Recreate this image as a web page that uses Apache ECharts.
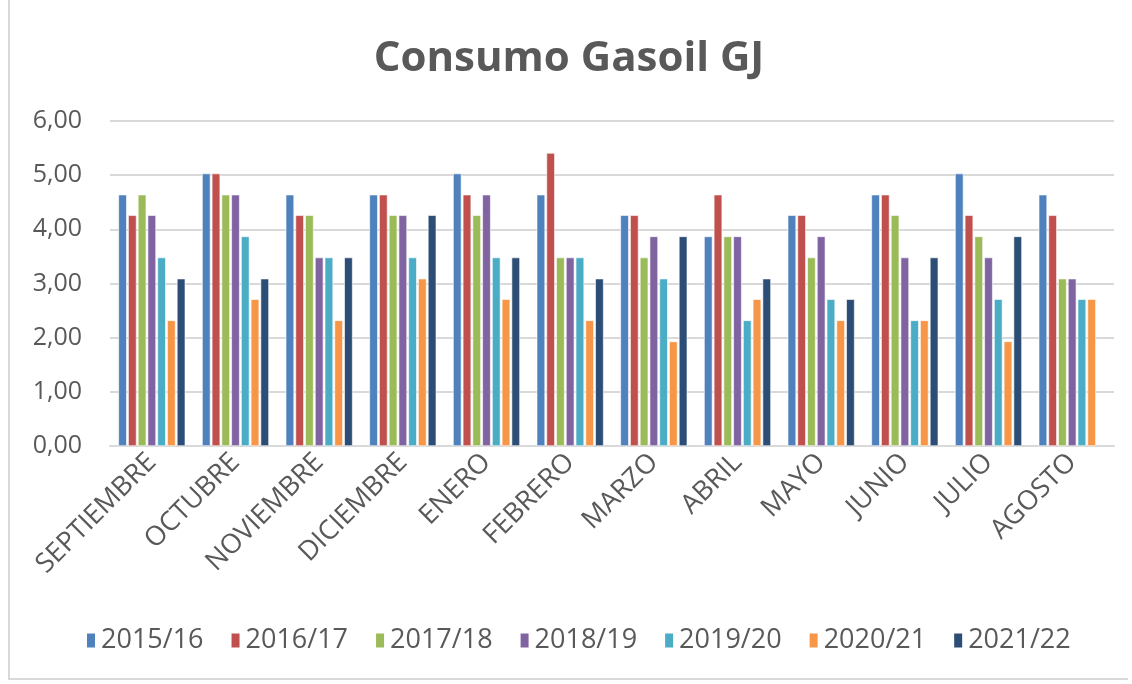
<!DOCTYPE html>
<html>
<head>
<meta charset="utf-8">
<script src="https://cdn.jsdelivr.net/npm/echarts@6/dist/echarts.min.js"></script>
<style>
  html, body { margin: 0; padding: 0; background: #fff; }
  #chart { position: absolute; left: 8px; top: 0; width: 1120px; height: 680px; border-left: 2px solid #d9d9d9; border-bottom: 2px solid #d9d9d9; box-sizing: border-box; }
</style>
</head>
<body>
<div id="chart"></div>
<script>
var months = ['SEPTIEMBRE','OCTUBRE','NOVIEMBRE','DICIEMBRE','ENERO','FEBRERO','MARZO','ABRIL','MAYO','JUNIO','JULIO','AGOSTO'];
var seasons = ['2015/16','2016/17','2017/18','2018/19','2019/20','2020/21','2021/22'];
var colors = ['#4f81bd','#c0504d','#9bbb59','#8064a2','#4bacc6','#f79646','#2c4d75'];

var s2015 = [4.64, 5.03, 4.64, 4.64, 5.03, 4.64, 4.26, 3.87, 4.26, 4.64, 5.03, 4.64];
var s2016 = [4.26, 5.03, 4.26, 4.64, 4.64, 5.41, 4.26, 4.64, 4.26, 4.64, 4.26, 4.26];
var s2017 = [4.64, 4.64, 4.26, 4.26, 4.26, 3.48, 3.48, 3.87, 3.48, 4.26, 3.87, 3.09];
var s2018 = [4.26, 4.64, 3.48, 4.26, 4.64, 3.48, 3.87, 3.87, 3.87, 3.48, 3.48, 3.09];
var s2019 = [3.48, 3.87, 3.48, 3.48, 3.48, 3.48, 3.09, 2.32, 2.71, 2.32, 2.71, 2.71];
var s2020 = [2.32, 2.71, 2.32, 3.09, 2.71, 2.32, 1.93, 2.71, 2.32, 2.32, 1.93, 2.71];
var s2021 = [3.09, 3.09, 3.48, 4.26, 3.48, 3.09, 3.87, 3.09, 2.71, 3.48, 3.87, null];

var seriesData = [s2015, s2016, s2017, s2018, s2019, s2020, s2021];

var chart = echarts.init(document.getElementById('chart'));
var font = 'Open Sans';

var series = seasons.map(function (name, i) {
    return {
        name: name,
        type: 'bar',
        barGap: '16%',
        barCategoryGap: '20%',
        itemStyle: { color: colors[i], borderColor: '#ffffff', borderWidth: 0.6 },
        data: seriesData[i]
    };
});

var option = {
    animation: false,
    color: colors,
    title: {
        text: 'Consumo Gasoil GJ',
        left: 'center',
        top: 33,
        textStyle: { fontFamily: font, fontSize: 42, fontWeight: 'bold', color: '#595959' }
    },
    legend: {
        bottom: 19,
        left: 70,
        itemWidth: 10,
        itemHeight: 16,
        itemGap: 26,
        icon: 'rect',
        textStyle: { fontFamily: font, fontSize: 27, color: '#595959' },
        data: seasons
    },
    grid: { left: 100, right: 14, top: 121, bottom: 232, containLabel: false },
    xAxis: {
        type: 'category',
        data: months,
        axisLine: { lineStyle: { color: '#d9d9d9', width: 2 } },
        axisTick: { show: false },
        axisLabel: { rotate: 45, interval: 0, fontFamily: font, fontSize: 27, color: '#595959', margin: 12 }
    },
    yAxis: {
        type: 'value',
        min: 0,
        max: 6,
        interval: 1,
        axisLine: { show: false },
        axisTick: { show: false },
        splitLine: { lineStyle: { color: '#d9d9d9', width: 2 } },
        axisLabel: {
            fontFamily: font, fontSize: 25, color: '#595959', margin: 28,
            formatter: function (v) { return v.toFixed(2).replace('.', ','); }
        }
    },
    series: series
};

chart.setOption(option);
</script>
</body>
</html>
